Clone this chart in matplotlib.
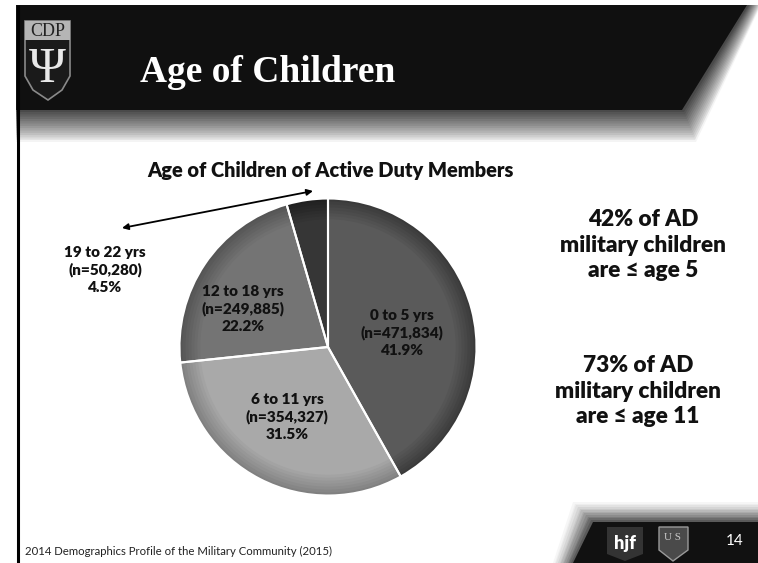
import matplotlib.pyplot as plt
from matplotlib.patches import Polygon, Rectangle
import numpy as np

# --- data ---
age_groups = ["0 to 5 yrs", "6 to 11 yrs", "12 to 18 yrs", "19 to 22 yrs"]
counts = ["471,834", "354,327", "249,885", "50,280"]
percents = [41.9, 31.5, 22.2, 4.5]
slice_colors = ["#5a5a5a", "#a9a9a9", "#747474", "#363636"]
edge_colors = ["#3a3a3a", "#808080", "#555555", "#202020"]

page_title = "Age of Children"
chart_title = "Age of Children of Active Duty Members"
notes = ["42% of AD\nmilitary children\nare \u2264 age 5",
         "73% of AD\nmilitary children\nare \u2264 age 11"]
source = "2014 Demographics Profile of the Military Community (2015)"
slide_no = "14"

W, H = 758, 563
sans = ["Lato", "DejaVu Sans"]


def mix(a, b, t):
    ca = np.array([int(a[j:j + 2], 16) for j in (1, 3, 5)])
    cb = np.array([int(b[j:j + 2], 16) for j in (1, 3, 5)])
    return tuple((ca + (cb - ca) * t) / 255)


fig = plt.figure(figsize=(W / 100, H / 100), dpi=100)
bg = fig.add_axes([0, 0, 1, 1])
bg.set_xlim(0, W)
bg.set_ylim(H, 0)
bg.axis("off")

# --- header band with soft layered shadow ---
n_sh = 14
for i in range(n_sh):
    t = i / (n_sh - 1)          # 0 = outermost (lightest)
    yb = 142 - 30 * t
    dx = 14 - 12 * t
    c = mix("#f4f4f4", "#4a4a4a", t ** 0.8)
    bg.add_patch(Polygon([(16, 5), (747 + dx, 5), (682 + dx, yb), (16, yb)],
                         closed=True, fc=c, ec="none"))
bg.add_patch(Polygon([(16, 5), (747, 5), (682, 110), (16, 110)], closed=True, fc="#101010", ec="none"))
bg.text(268, 82, page_title, color="white", fontsize=27, fontweight="bold",
        family="Liberation Serif", ha="center", va="baseline")

# left rule
bg.plot([18, 18], [5, H], color="black", lw=2.2, solid_capstyle="butt")

# --- CDP logo ---
bg.add_patch(Polygon([(25, 21), (70, 21), (70, 76), (62, 90), (48, 100), (33, 90), (25, 76)],
                     closed=True, fc="#1a1a1a", ec="#8a8a8a", lw=1.2))
bg.add_patch(Rectangle((25, 21), 45, 19, fc="#b5b5b5", ec="none"))
bg.text(47.5, 31, "CDP", color="#222222", fontsize=13, family="Liberation Serif",
        ha="center", va="center")
bg.text(47.5, 70, "\u03a8", color="#e8e8e8", fontsize=36, family="Liberation Serif",
        ha="center", va="center")

# --- footer band ---
n_ft = 12
for i in range(n_ft):
    t = i / (n_ft - 1)
    k = 20 - 18 * t
    c = mix("#f6f6f6", "#5a5a5a", t ** 1.2)
    bg.add_patch(Polygon([(593 - k, 522 - k), (W, 522 - k), (W, H), (573 - k, H)],
                         closed=True, fc=c, ec="none"))
bg.add_patch(Polygon([(593, 522), (W, 522), (W, H), (573, H)], closed=True, fc="#111111", ec="none"))
bg.add_patch(Polygon([(607, 527), (643, 527), (643, 554), (625, 561), (607, 554)],
                     closed=True, fc="#333333", ec="none"))
bg.text(625, 543, "hjf", color="white", fontsize=13, fontweight="heavy", family=sans,
        ha="center", va="center")
bg.add_patch(Polygon([(659, 527), (688, 527), (688, 550), (673, 561), (659, 550)],
                     closed=True, fc="#4a4a4a", ec="#9a9a9a", lw=1))
bg.text(673, 538, "U S", color="#c8c8c8", fontsize=8, family="Liberation Serif",
        ha="center", va="center")
bg.text(735, 541, slide_no, color="white", fontsize=11, family=sans, ha="center", va="center")

bg.text(25, 551, source, color="#222222", fontsize=8.2, family=sans, ha="left", va="center")

# --- chart title and notes ---
bg.text(330, 171, chart_title, fontsize=14.4, fontweight="heavy", family=sans,
        ha="center", va="center", color="#111111")
bg.text(643, 245, notes[0], fontsize=16.3, fontweight="heavy", family=sans,
        ha="center", va="center", color="#111111", linespacing=1.25)
bg.text(638, 391, notes[1], fontsize=16.3, fontweight="heavy", family=sans,
        ha="center", va="center", color="#111111", linespacing=1.25)

# --- pie ---
cx, cy, r = 328, 347, 150
pax = fig.add_axes([(cx - r) / W, 1 - (cy + r) / H, 2 * r / W, 2 * r / H])

# fake bevel: concentric pies from edge colour to body colour
steps = 8
for i in range(steps):
    t = i / (steps - 1)
    rad = 1.0 - 0.14 * t
    cols = [mix(a, b, t) for a, b in zip(edge_colors, slice_colors)]
    pax.pie(percents, colors=cols, startangle=90, counterclock=False, radius=rad,
            wedgeprops=dict(linewidth=0))
pax.pie(percents, colors=["none"] * len(percents), startangle=90, counterclock=False, radius=1.0,
        wedgeprops=dict(edgecolor="white", linewidth=1.5, fill=False))
pax.set_xlim(-1.01, 1.01)
pax.set_ylim(-1.01, 1.01)
pax.axis("off")

labels = [f"{g}\n(n={n})\n{p}%" for g, n, p in zip(age_groups, counts, percents)]
label_pos = [(402, 333), (287, 417), (243, 309), (105, 270)]
for lab, (x, y) in zip(labels, label_pos):
    bg.text(x, y, lab, fontsize=11, fontweight="heavy", family=sans, ha="center",
            va="center", color="#111111", linespacing=1.35, zorder=5)
bg.set_zorder(pax.get_zorder() + 1)
bg.patch.set_alpha(0)

# leader arrow for the small slice
bg.annotate("", xy=(122, 228), xytext=(313, 191),
            arrowprops=dict(arrowstyle="<|-|>", color="black", lw=1.3,
                            mutation_scale=9, shrinkA=0, shrinkB=0))

fig.savefig("out.png", dpi=100)
